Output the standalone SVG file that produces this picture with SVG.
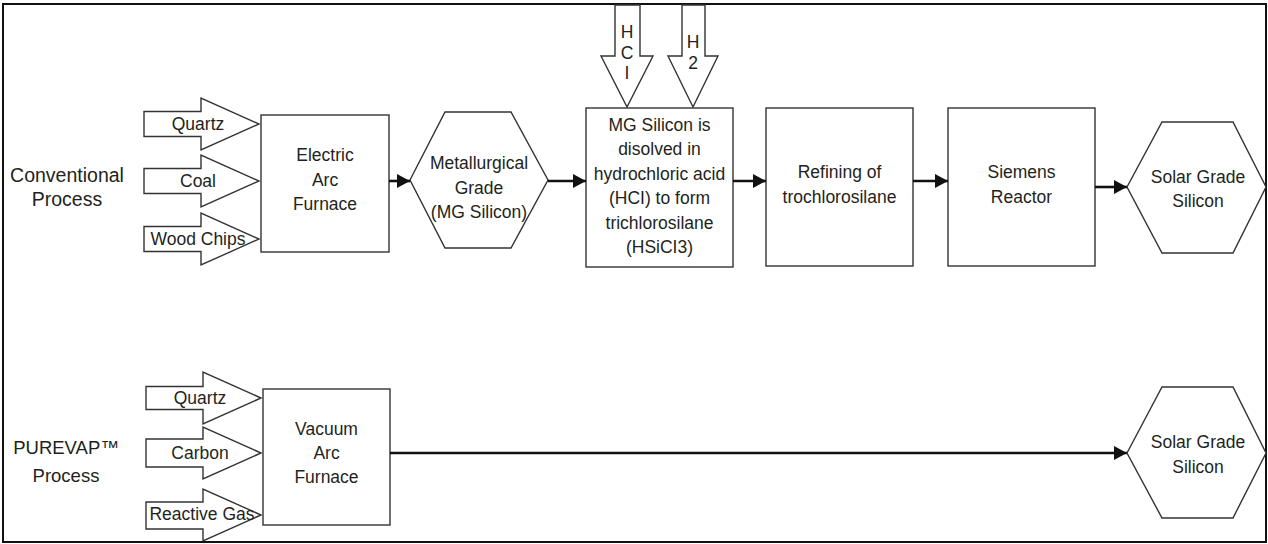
<svg xmlns="http://www.w3.org/2000/svg" width="1268" height="544" viewBox="0 0 1268 544">
<style>
.shape{fill:#fff;stroke:#333;stroke-width:1.4}
.t{font-family:"Liberation Sans",Arial,sans-serif;font-size:17.5px;fill:#231f20;text-anchor:middle}
.lbl{font-family:"Liberation Sans",Arial,sans-serif;font-size:19.5px;fill:#231f20;text-anchor:middle}
.lbl2{font-family:"Liberation Sans",Arial,sans-serif;font-size:18.5px;fill:#231f20;text-anchor:middle}
.conn{stroke:#111;stroke-width:2.6;fill:none}
</style>
<defs>
<marker id="ah" markerWidth="13" markerHeight="14" refX="13" refY="7" orient="auto" markerUnits="userSpaceOnUse">
<path d="M0,0 L13,7 L0,14 Z" fill="#111"/>
</marker>
</defs>
<rect x="0" y="0" width="1268" height="544" fill="#fff"/>
<rect id="frame" x="3" y="4" width="1263" height="538" fill="none" stroke="#111" stroke-width="2"/>

<g id="label-conventional">
<text class="lbl" x="67" y="182">Conventional</text>
<text class="lbl" x="67" y="206">Process</text>
</g>
<g id="label-purevap">
<text class="lbl2" x="66" y="454">PUREVAP™</text>
<text class="lbl2" x="66" y="482">Process</text>
</g>

<g id="in-quartz1">
<polygon class="shape" points="144,111.5 201,111.5 201,98 259,124 201,150 201,136.5 144,136.5"/>
<text class="t" x="198" y="130">Quartz</text>
</g>
<g id="in-coal">
<polygon class="shape" points="144,168.5 201,168.5 201,155 259,181 201,207 201,193.5 144,193.5"/>
<text class="t" x="198" y="187">Coal</text>
</g>
<g id="in-wood">
<polygon class="shape" points="144,226.5 201,226.5 201,213 259,239 201,265 201,251.5 144,251.5"/>
<text class="t" x="198" y="245">Wood Chips</text>
</g>

<g id="eaf">
<rect class="shape" x="261" y="115" width="128" height="137"/>
<text class="t" x="325" y="161">Electric</text>
<text class="t" x="325" y="186">Arc</text>
<text class="t" x="325" y="210">Furnace</text>
</g>

<g id="mg-hex">
<polygon class="shape" points="410,180 445,112 511,112 548,180 511,248 445,248"/>
<text class="t" x="479" y="169">Metallurgical</text>
<text class="t" x="479" y="194">Grade</text>
<text class="t" x="479" y="218">(MG Silicon)</text>
</g>

<g id="in-hcl">
<polygon class="shape" points="615,5 640,5 640,56 653,56 627,107 601,56 615,56"/>
<text class="t" x="627" y="38">H</text>
<text class="t" x="627" y="59">C</text>
<text class="t" x="627" y="79">I</text>
</g>
<g id="in-h2">
<polygon class="shape" points="682,5 705,5 705,56 718,56 693,107 668,56 682,56"/>
<text class="t" x="693" y="48">H</text>
<text class="t" x="693" y="69">2</text>
</g>

<g id="dissolve">
<rect class="shape" x="586" y="108" width="147" height="159"/>
<text class="t" x="659.5" y="131">MG Silicon is</text>
<text class="t" x="659.5" y="155">disolved in</text>
<text class="t" x="659.5" y="180">hydrochloric acid</text>
<text class="t" x="659.5" y="204">(HCI) to form</text>
<text class="t" x="659.5" y="229">trichlorosilane</text>
<text class="t" x="659.5" y="253">(HSiCI3)</text>
</g>

<g id="refining">
<rect class="shape" x="766" y="108" width="147" height="158"/>
<text class="t" x="839.5" y="178">Refining of</text>
<text class="t" x="839.5" y="203">trochlorosilane</text>
</g>

<g id="siemens">
<rect class="shape" x="948" y="108" width="147" height="158"/>
<text class="t" x="1021.5" y="178">Siemens</text>
<text class="t" x="1021.5" y="203">Reactor</text>
</g>

<g id="solar1">
<polygon class="shape" points="1127,187 1162,122 1233,122 1266,187 1233,253 1162,253"/>
<text class="t" x="1198" y="183">Solar Grade</text>
<text class="t" x="1198" y="207">Silicon</text>
</g>

<g id="in-quartz2">
<polygon class="shape" points="146,386.5 203,386.5 203,372 261,398 203,424 203,409.5 146,409.5"/>
<text class="t" x="200" y="404">Quartz</text>
</g>
<g id="in-carbon">
<polygon class="shape" points="146,439 203,439 203,427 261,453 203,479 203,467 146,467"/>
<text class="t" x="200" y="459">Carbon</text>
</g>
<g id="in-gas">
<polygon class="shape" points="146,502 203,502 203,489 261,515 203,541 203,529 146,529"/>
<text class="t" x="202" y="520">Reactive Gas</text>
</g>

<g id="vaf">
<rect class="shape" x="263" y="389" width="127" height="136"/>
<text class="t" x="326.5" y="435">Vacuum</text>
<text class="t" x="326.5" y="459">Arc</text>
<text class="t" x="326.5" y="483">Furnace</text>
</g>

<g id="solar2">
<polygon class="shape" points="1127,453 1162,387 1233,387 1266,453 1233,518 1162,518"/>
<text class="t" x="1198" y="448">Solar Grade</text>
<text class="t" x="1198" y="473">Silicon</text>
</g>

<g id="connectors">
<line class="conn" x1="389" y1="181" x2="410" y2="181" marker-end="url(#ah)"/>
<line class="conn" x1="548" y1="181" x2="586" y2="181" marker-end="url(#ah)"/>
<line class="conn" x1="733" y1="181" x2="766" y2="181" marker-end="url(#ah)"/>
<line class="conn" x1="913" y1="181" x2="948" y2="181" marker-end="url(#ah)"/>
<line class="conn" x1="1095" y1="187" x2="1127" y2="187" marker-end="url(#ah)"/>
<line class="conn" x1="390" y1="453" x2="1127" y2="453" marker-end="url(#ah)"/>
</g>
</svg>
